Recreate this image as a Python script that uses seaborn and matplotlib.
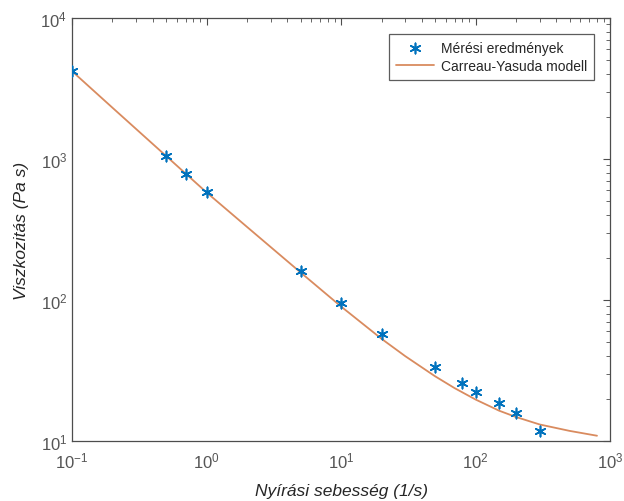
import numpy as np
import pandas as pd
import matplotlib
matplotlib.use('Agg')
import matplotlib.pyplot as plt
import seaborn as sns

# Mért adatok (nyírási sebesség 1/s, viszkozitás Pa s)
meres_x = [0.1, 0.5, 0.7, 1, 5, 10, 20, 50, 80, 100, 150, 200, 300]
meres_y = [4210, 1050, 783, 586, 161, 96, 57.4, 33.3, 25.6, 22.1, 18.5, 15.8, 11.8]

# Carreau-Yasuda modell görbe
modell_x = [0.1, 0.2, 0.5, 1, 2, 5, 10, 20, 30, 50, 70, 100, 150, 200, 300, 500, 800]
modell_y = [4200, 2310, 1052, 580, 330, 157, 90, 53.1, 40, 28.8, 23.7, 19.7, 16.4, 14.8, 13.1, 11.8, 10.9]

df_meres = pd.DataFrame({'x': meres_x, 'y': meres_y})
df_modell = pd.DataFrame({'x': modell_x, 'y': modell_y})

sns.set_style('white')
plt.rcParams['font.family'] = ['Liberation Sans', 'DejaVu Sans']
plt.rcParams['mathtext.fontset'] = 'custom'
plt.rcParams['mathtext.rm'] = 'Liberation Sans'
plt.rcParams['mathtext.it'] = 'Liberation Sans:italic'

fig = plt.figure(figsize=(6.24, 5.02), dpi=100)
ax = fig.add_axes([0.1154, 0.1195, 0.8622, 0.8426])

sns.scatterplot(data=df_meres, x='x', y='y', ax=ax, marker=(6, 2, 0), s=55,
                color='#0072BD', edgecolor='#0072BD', linewidth=1.2,
                label='Mérési eredmények', zorder=3)
sns.lineplot(data=df_modell, x='x', y='y', ax=ax, color='#D98B5F', linewidth=1.3,
             label='Carreau-Yasuda modell', zorder=2)

ax.set_xscale('log')
ax.set_yscale('log')
ax.set_xlim(0.1, 1000)
ax.set_ylim(10, 10000)

ax.set_xlabel('Nyírási sebesség (1/s)', fontsize=12.5, style='italic', color='#262626', labelpad=9)
ax.set_ylabel('Viszkozitás (Pa s)', fontsize=12.5, style='italic', color='#262626', labelpad=8)

ax.tick_params(which='both', direction='in', top=True, right=True, colors='#4d4d4d',
               labelcolor='#555555', labelsize=12)
ax.tick_params(which='major', length=5, width=0.8)
ax.tick_params(which='minor', length=3, width=0.6)
ax.tick_params(axis='x', pad=7)
for s in ax.spines.values():
    s.set_color('#4d4d4d')
    s.set_linewidth(0.9)

leg = ax.legend(loc='upper right', fontsize=10, borderaxespad=1.15,
                frameon=True, fancybox=False, borderpad=0.5, handlelength=2.7,
                labelspacing=0.3, handletextpad=0.5)
leg.get_frame().set_edgecolor('#333333')
leg.get_frame().set_linewidth(0.9)

fig.savefig('out.png', dpi=100)
